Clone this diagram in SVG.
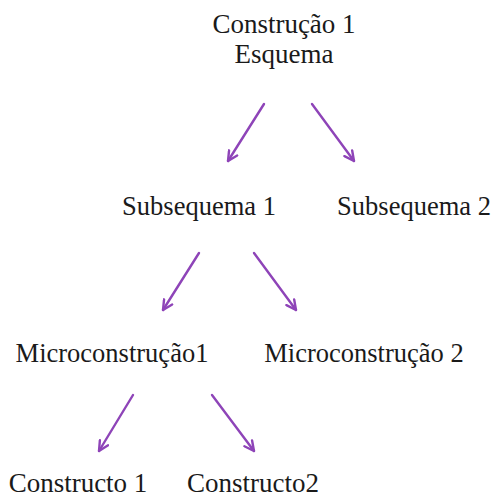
<svg xmlns="http://www.w3.org/2000/svg" width="491" height="500" viewBox="0 0 491 500">
  <style>
    .lbl { font-family: "Liberation Serif", "Times New Roman", serif; font-size: 26.5px; fill: #1a1a1a; text-anchor: middle; }
    .big { font-size: 27px; }
    .edge { stroke: #8e44b8; stroke-width: 2.4; fill: none; stroke-linecap: round; marker-end: url(#head); }
  </style>
  <defs>
    <marker id="head" viewBox="0 0 10 10" refX="9" refY="5" markerWidth="5" markerHeight="5" orient="auto" markerUnits="strokeWidth">
      <path d="M1,1 L9,5 L1,9" fill="none" stroke="#8e44b8" stroke-width="2" stroke-linecap="round" stroke-linejoin="round"/>
    </marker>
  </defs>
  <rect width="491" height="500" fill="#ffffff"/>

  <g id="connectors">
    <line class="edge" x1="264" y1="104" x2="228" y2="161"/>
    <line class="edge" x1="312" y1="104" x2="354" y2="161"/>
    <line class="edge" x1="199" y1="253" x2="163" y2="310"/>
    <line class="edge" x1="254" y1="253" x2="296" y2="310"/>
    <line class="edge" x1="133" y1="395" x2="99" y2="451"/>
    <line class="edge" x1="212" y1="395" x2="254" y2="451"/>
  </g>

  <g id="construcao">
    <text class="lbl big" x="284" y="33">Construção 1</text>
    <text class="lbl big" x="284" y="63">Esquema</text>
  </g>
  <g id="subsequema1">
    <text class="lbl" x="199" y="215">Subsequema 1</text>
  </g>
  <g id="subsequema2">
    <text class="lbl" x="414" y="215">Subsequema 2</text>
  </g>
  <g id="microconstrucao1">
    <text class="lbl" x="112" y="362">Microconstrução1</text>
  </g>
  <g id="microconstrucao2">
    <text class="lbl" x="364" y="362">Microconstrução 2</text>
  </g>
  <g id="constructo1">
    <text class="lbl big" x="78" y="492">Constructo 1</text>
  </g>
  <g id="constructo2">
    <text class="lbl big" x="253" y="492">Constructo2</text>
  </g>
</svg>
